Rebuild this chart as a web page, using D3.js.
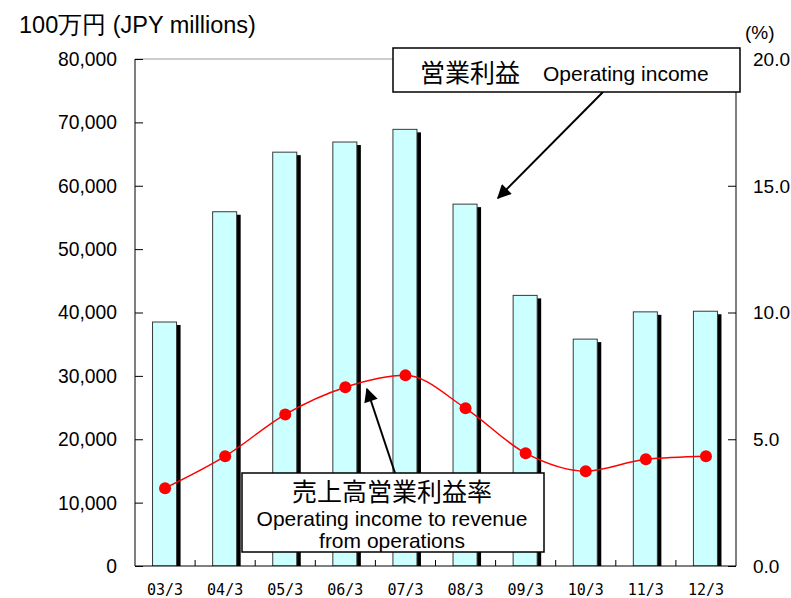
<!DOCTYPE html>
<html>
<head>
<meta charset="utf-8">
<script src="https://cdn.jsdelivr.net/npm/d3@7"></script>
<style>
  body { margin: 0; background: #fff; }
  text { font-family: "Liberation Sans", Arial, sans-serif; fill: #000; }
</style>
</head>
<body>
<div id="wrapper"></div>
<script>
// data
const years = ["03/3", "04/3", "05/3", "06/3", "07/3", "08/3", "09/3", "10/3", "11/3", "12/3"]
const operatingIncome = [38500, 55900, 65300, 66900, 68900, 57100, 42700, 35800, 40100, 40200]
const incomeRatio = [3.07, 4.33, 5.98, 7.05, 7.52, 6.22, 4.45, 3.74, 4.21, 4.33]
const leftTicks = [0, 10000, 20000, 30000, 40000, 50000, 60000, 70000, 80000]
const rightTicks = [0, 5, 10, 15, 20]

const dimensions = {
    width: 791,
    height: 598,
    margin: { top: 59, right: 55, bottom: 32, left: 135 }
}
dimensions.boundedWidth = dimensions.width - dimensions.margin.left - dimensions.margin.right
dimensions.boundedHeight = dimensions.height - dimensions.margin.top - dimensions.margin.bottom

const svg = d3.select("#wrapper")
    .append("svg")
    .attr("width", dimensions.width)
    .attr("height", dimensions.height)

const defs = svg.append("defs")
defs.append("clipPath")
    .attr("id", "plot-clip")
    .append("rect")
    .attr("width", dimensions.boundedWidth)
    .attr("height", dimensions.boundedHeight)
defs.append("marker")
    .attr("id", "arrowhead")
    .attr("viewBox", "0 0 10 10")
    .attr("refX", 9)
    .attr("refY", 5)
    .attr("markerWidth", 16)
    .attr("markerHeight", 14)
    .attr("markerUnits", "userSpaceOnUse")
    .attr("orient", "auto")
    .append("path")
    .attr("d", "M0,0 L10,5 L0,10 Z")
    .attr("fill", "#000")

const bounds = svg.append("g")
    .attr("transform", `translate(${dimensions.margin.left}, ${dimensions.margin.top})`)

const xScale = d3.scaleBand()
    .domain(years)
    .range([0, dimensions.boundedWidth])

const yScale = d3.scaleLinear()
    .domain([0, 80000])
    .range([dimensions.boundedHeight, 0])

const rScale = d3.scaleLinear()
    .domain([0, 20])
    .range([dimensions.boundedHeight, 0])

const barWidth = xScale.bandwidth() * 0.4
const barX = d => xScale(d) + (xScale.bandwidth() - barWidth) / 2 - 0.5

// top border (grey)
bounds.append("line")
    .attr("x1", 0).attr("x2", dimensions.boundedWidth)
    .attr("y1", 0).attr("y2", 0)
    .attr("stroke", "#9a9a9a")

// bars with shadow
const barData = years.map((y, i) => ({ year: y, value: operatingIncome[i] }))
const barsG = bounds.append("g").attr("clip-path", "url(#plot-clip)")
barsG.selectAll("rect.shadow")
    .data(barData)
    .join("rect")
    .attr("class", "shadow")
    .attr("x", d => barX(d.year) + 4)
    .attr("y", d => yScale(d.value) + 3)
    .attr("width", barWidth)
    .attr("height", d => dimensions.boundedHeight - yScale(d.value))
    .attr("fill", "#000")
barsG.selectAll("rect.bar")
    .data(barData)
    .join("rect")
    .attr("class", "bar")
    .attr("x", d => barX(d.year))
    .attr("y", d => yScale(d.value))
    .attr("width", barWidth)
    .attr("height", d => dimensions.boundedHeight - yScale(d.value))
    .attr("fill", "#ccffff")
    .attr("stroke", "#3a3a3a")
    .attr("stroke-width", 1)

// ratio line
const lineData = years.map((y, i) => ({ year: y, value: incomeRatio[i] }))
const lineGen = d3.line()
    .x(d => xScale(d.year) + xScale.bandwidth() / 2)
    .y(d => rScale(d.value))
    .curve(d3.curveMonotoneX)
bounds.append("path")
    .datum(lineData)
    .attr("d", lineGen)
    .attr("fill", "none")
    .attr("stroke", "#ff0000")
    .attr("stroke-width", 1.5)
bounds.selectAll("circle.dot")
    .data(lineData)
    .join("circle")
    .attr("class", "dot")
    .attr("cx", d => xScale(d.year) + xScale.bandwidth() / 2)
    .attr("cy", d => rScale(d.value))
    .attr("r", 6)
    .attr("fill", "#ff0000")

// left axis, ticks pointing inward
const yAxis = d3.axisRight(yScale)
    .tickValues(leftTicks)
    .tickSize(8)
    .tickFormat(() => "")
const yAxisEl = bounds.append("g").attr("class", "y-axis").call(yAxis)
yAxisEl.select(".domain").attr("d", `M0,0V${dimensions.boundedHeight}`)
bounds.selectAll(".y-label")
    .data(leftTicks)
    .join("text")
    .attr("class", "y-label")
    .attr("x", -18)
    .attr("y", d => yScale(d))
    .attr("dy", "0.36em")
    .attr("text-anchor", "end")
    .style("font-size", "19.3px")
    .text(d3.format(","))

// right axis, ticks pointing inward
const rAxis = d3.axisLeft(rScale)
    .tickValues(rightTicks)
    .tickSize(8)
    .tickFormat(() => "")
const rAxisEl = bounds.append("g")
    .attr("class", "r-axis")
    .attr("transform", `translate(${dimensions.boundedWidth}, 0)`)
    .call(rAxis)
rAxisEl.select(".domain").attr("d", `M0,0V${dimensions.boundedHeight}`)
bounds.selectAll(".r-label")
    .data(rightTicks)
    .join("text")
    .attr("class", "r-label")
    .attr("x", dimensions.boundedWidth + 17)
    .attr("y", d => rScale(d))
    .attr("dy", "0.36em")
    .style("font-size", "19px")
    .text(d3.format(".1f"))

// x axis: small upward ticks at category boundaries
bounds.append("line")
    .attr("x1", 0).attr("x2", dimensions.boundedWidth)
    .attr("y1", dimensions.boundedHeight).attr("y2", dimensions.boundedHeight)
    .attr("stroke", "#000")
bounds.selectAll(".x-tick")
    .data(years.slice(1))
    .join("line")
    .attr("class", "x-tick")
    .attr("x1", d => xScale(d)).attr("x2", d => xScale(d))
    .attr("y1", dimensions.boundedHeight).attr("y2", dimensions.boundedHeight - 6)
    .attr("stroke", "#000")
bounds.selectAll(".x-label")
    .data(years)
    .join("text")
    .attr("class", "x-label")
    .attr("x", d => xScale(d) + xScale.bandwidth() / 2)
    .attr("y", dimensions.boundedHeight + 29)
    .attr("text-anchor", "middle")
    .style("font-family", "'DejaVu Sans Mono', monospace")
    .style("font-size", "15px")
    .text(d => d)

// axis titles
svg.append("text")
    .attr("x", 19).attr("y", 33)
    .style("font-size", "23.5px")
    .text("100万円 (JPY millions)")
svg.append("text")
    .attr("x", 745).attr("y", 39)
    .style("font-size", "19px")
    .text("(%)")

// callout: operating income
svg.append("line")
    .attr("x1", 603).attr("y1", 92)
    .attr("x2", 498).attr("y2", 198)
    .attr("stroke", "#000").attr("stroke-width", 2)
    .attr("marker-end", "url(#arrowhead)")
svg.append("rect")
    .attr("x", 393).attr("y", 48)
    .attr("width", 347).attr("height", 44)
    .attr("fill", "#fff").attr("stroke", "#000").attr("stroke-width", 1.5)
const t1 = svg.append("text")
    .attr("x", 420).attr("y", 82)
t1.append("tspan")
    .style("font-family", "'Noto Sans CJK JP', sans-serif")
    .style("font-size", "25px")
    .text("営業利益")
t1.append("tspan")
    .attr("x", 543)
    .attr("dy", -1)
    .style("font-size", "21px")
    .text("Operating income")

// callout: operating income ratio
svg.append("line")
    .attr("x1", 395).attr("y1", 473)
    .attr("x2", 367).attr("y2", 389)
    .attr("stroke", "#000").attr("stroke-width", 2)
    .attr("marker-end", "url(#arrowhead)")
svg.append("rect")
    .attr("x", 242).attr("y", 473)
    .attr("width", 302).attr("height", 79)
    .attr("fill", "#fff").attr("stroke", "#000").attr("stroke-width", 1.5)
svg.append("text")
    .attr("x", 392).attr("y", 501)
    .attr("text-anchor", "middle")
    .style("font-family", "'Noto Sans CJK JP', sans-serif")
    .style("font-size", "25px")
    .text("売上高営業利益率")
svg.append("text")
    .attr("x", 392).attr("y", 526)
    .attr("text-anchor", "middle")
    .style("font-size", "21px")
    .text("Operating income to revenue")
svg.append("text")
    .attr("x", 392).attr("y", 548)
    .attr("text-anchor", "middle")
    .style("font-size", "21px")
    .text("from operations")
</script>
</body>
</html>
